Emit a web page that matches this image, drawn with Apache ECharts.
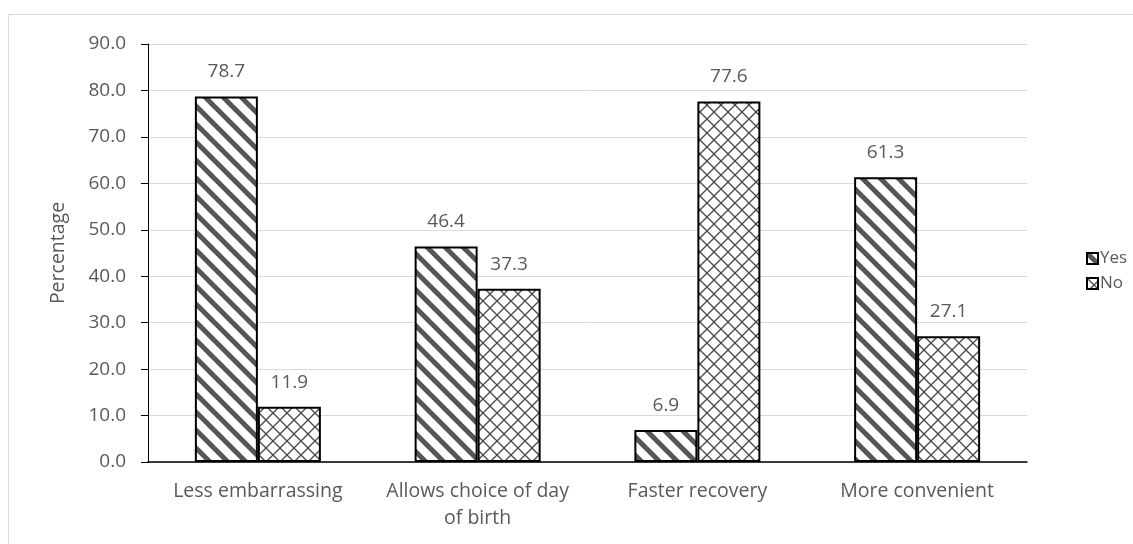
<!DOCTYPE html>
<html>
<head>
<meta charset="utf-8">
<script src="https://cdn.jsdelivr.net/npm/echarts@6/dist/echarts.min.js"></script>
<style>
  html, body { margin: 0; padding: 0; background: #fff; }
  #chart { width: 1133px; height: 544px; }
</style>
</head>
<body>
<div id="chart"></div>
<script>
// Reasons given, share answering Yes / No (%)
const categories = ['Less embarrassing', 'Allows choice of day\nof birth', 'Faster recovery', 'More convenient'];
const yesValues = [78.7, 46.4, 6.9, 61.3];
const noValues = [11.9, 37.3, 77.6, 27.1];
const seriesNames = ['Yes', 'No'];

// Diagonal stripe fill ("\" direction)
function stripePattern() {
  const s = 18;
  const c = document.createElement('canvas');
  c.width = s; c.height = s;
  const g = c.getContext('2d');
  g.fillStyle = '#fff';
  g.fillRect(0, 0, s, s);
  g.strokeStyle = '#565656';
  g.lineWidth = 5;
  for (let k = -1; k <= 1; k++) {
    g.beginPath();
    g.moveTo(k * s - 2, -2);
    g.lineTo(k * s + s + 2, s + 2);
    g.stroke();
  }
  return c;
}

// Thin diagonal cross-hatch fill
function crossPattern() {
  const s = 14;
  const c = document.createElement('canvas');
  c.width = s; c.height = s;
  const g = c.getContext('2d');
  g.fillStyle = '#fff';
  g.fillRect(0, 0, s, s);
  g.strokeStyle = '#4a4a4a';
  g.lineWidth = 1.3;
  for (let k = -1; k <= 1; k++) {
    g.beginPath();
    g.moveTo(k * s - 2, -2);
    g.lineTo(k * s + s + 2, s + 2);
    g.stroke();
    g.beginPath();
    g.moveTo(k * s - 2, s + 2);
    g.lineTo(k * s + s + 2, -2);
    g.stroke();
  }
  return c;
}

const font = 'Open Sans';
const textColor = '#595959';

const chart = echarts.init(document.getElementById('chart'));
const labelStyle = {
  show: true,
  position: 'top',
  distance: 15,
  color: textColor,
  fontFamily: font,
  fontSize: 19,
  formatter: p => p.value.toFixed(1)
};

chart.setOption({
  animation: false,
  graphic: [{
    type: 'rect',
    shape: { x: 8.5, y: 14.5, width: 1140, height: 540 },
    style: { fill: 'none', stroke: '#d9d9d9', lineWidth: 1 },
    silent: true
  }],
  grid: { left: 148, right: 106, top: 44, bottom: 82 },
  legend: {
    orient: 'vertical',
    left: 1086,
    top: 247,
    padding: 0,
    itemWidth: 11,
    itemHeight: 11,
    itemGap: 2,
    icon: 'rect',
    data: seriesNames,
    textStyle: { color: textColor, fontFamily: font, fontSize: 17, padding: [0, 0, 0, -3], lineHeight: 23 }
  },
  xAxis: {
    type: 'category',
    data: categories,
    axisLine: { lineStyle: { color: '#000', width: 1.5 } },
    axisTick: { show: false },
    axisLabel: {
      interval: 0,
      color: textColor,
      fontFamily: font,
      fontSize: 19.5,
      margin: 16,
      lineHeight: 27
    }
  },
  yAxis: {
    type: 'value',
    min: 0,
    max: 90,
    interval: 10,
    name: 'Percentage',
    nameLocation: 'middle',
    nameGap: 80,
    nameTextStyle: { color: textColor, fontFamily: font, fontSize: 19.5 },
    axisLine: { show: true, lineStyle: { color: '#000', width: 1 } },
    axisTick: { show: true, length: 7, lineStyle: { color: '#000' } },
    splitLine: { lineStyle: { color: '#d9d9d9', width: 1 } },
    axisLabel: {
      color: textColor,
      fontFamily: font,
      fontSize: 19,
      margin: 22,
      formatter: v => v.toFixed(1)
    }
  },
  series: [
    {
      name: seriesNames[0],
      type: 'bar',
      data: yesValues,
      barWidth: 63,
      barGap: '0%',
      itemStyle: { color: { image: stripePattern(), repeat: 'repeat' }, borderColor: '#000', borderWidth: 2 },
      label: labelStyle
    },
    {
      name: seriesNames[1],
      type: 'bar',
      data: noValues,
      barWidth: 63,
      barGap: '0%',
      itemStyle: { color: { image: crossPattern(), repeat: 'repeat' }, borderColor: '#000', borderWidth: 2 },
      label: labelStyle
    }
  ]
});
</script>
</body>
</html>
